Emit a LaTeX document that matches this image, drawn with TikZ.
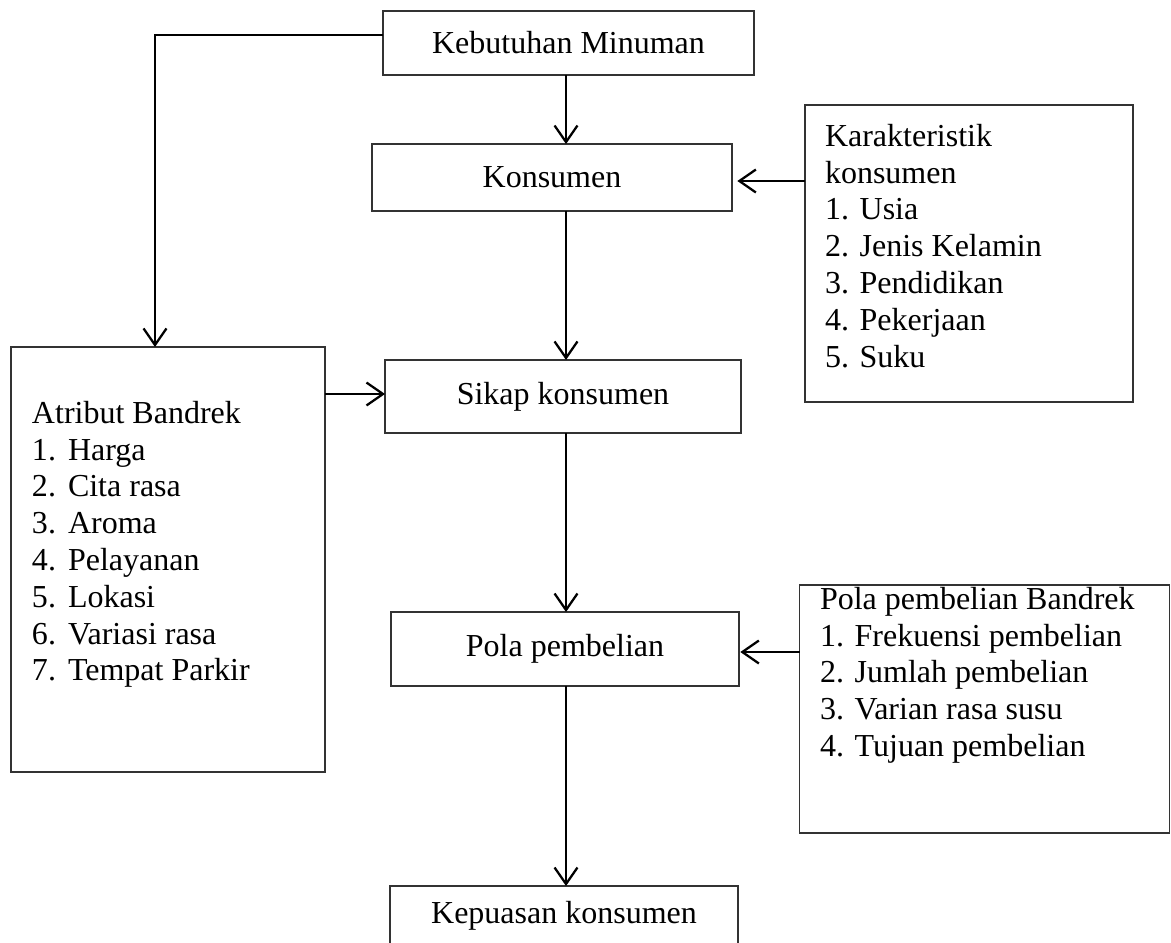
\documentclass[tikz,border=0pt]{standalone}
\usepackage{fontspec}
\setmainfont{Liberation Serif}
\usetikzlibrary{arrows.meta}
\begin{document}
\begin{tikzpicture}[x=0.375pt,y=-0.375pt,
  box/.style={draw=black!80,line width=0.45pt,inner sep=0pt,outer sep=0pt},
  txt/.style={inner sep=0pt,outer sep=0pt,align=left,font=\fontsize{12}{13.8}\selectfont},
  lbl/.style={font=\fontsize{12}{13.8}\selectfont},
  arr/.style={line width=0.85pt,-{Straight Barb[length=6.2pt,width=8.6pt,line width=0.85pt]}}]
\useasboundingbox (0,0) rectangle (1171,942);
% boxes
\node[box,lbl,minimum width=139.1pt,minimum height=24pt] (top) at (568.5,43) {Kebutuhan Minuman};
\node[box,lbl,minimum width=135pt,minimum height=25.1pt] (kon) at (552,177.5) {Konsumen};
\node[box,minimum width=123pt,minimum height=111.4pt] (kar) at (969,253.5) {};
\node[box,lbl,minimum width=133.5pt,minimum height=27.4pt] (sik) at (563,396.5) {Sikap konsumen};
\node[box,minimum width=117.75pt,minimum height=159.4pt] (atr) at (168,559.5) {};
\node[box,lbl,minimum width=130.5pt,minimum height=27.75pt] (pol) at (565,649) {Pola pembelian};
\node[box,minimum width=138.75pt,minimum height=93pt] (ppb) at (984.5,709) {};
\node[lbl,inner sep=0pt,outer sep=0pt,minimum width=130.5pt,minimum height=22.5pt] (kep) at (564,916) {Kepuasan konsumen};
\draw[draw=black!80,line width=0.45pt] (kep.south west) -- (kep.north west) -- (kep.north east) -- (kep.south east);
% box texts
\node[txt,anchor=north west] (kartxt) at (825,124) {Karakteristik\\konsumen\\1. Usia\\2. Jenis Kelamin\\3. Pendidikan\\4. Pekerjaan\\5. Suku};
\node[txt,anchor=north west] (atrtxt) at (32,401) {Atribut Bandrek\\
\makebox[13.5pt][l]{1.}Harga\\
\makebox[13.5pt][l]{2.}Cita rasa\\
\makebox[13.5pt][l]{3.}Aroma\\
\makebox[13.5pt][l]{4.}Pelayanan\\
\makebox[13.5pt][l]{5.}Lokasi\\
\makebox[13.5pt][l]{6.}Variasi rasa\\
\makebox[13.5pt][l]{7.}Tempat Parkir};
\node[txt,anchor=north west] (ppbtxt) at (820,587) {Pola pembelian Bandrek\\1. Frekuensi pembelian\\2. Jumlah pembelian\\3. Varian rasa susu\\4. Tujuan pembelian};
% connectors
\coordinate (vx) at (566,0);
\coordinate (lx) at (155,0);
\draw[arr] (top.south -| vx) -- (kon.north -| vx);
\draw[arr] (kon.south -| vx) -- (sik.north -| vx);
\draw[arr] (sik.south -| vx) -- (pol.north -| vx);
\draw[arr] (pol.south -| vx) -- (kep.north -| vx);
\coordinate (ky) at (0,181);
\coordinate (ay) at (0,394);
\coordinate (py) at (0,652);
\coordinate (ty) at (0,35);
\draw[arr,shorten >=2pt] (kar.west |- ky) -- (kon.east |- ky);
\draw[arr] (atr.east |- ay) -- (sik.west |- ay);
\draw[arr,shorten >=0.5pt] (ppb.west |- py) -- (pol.east |- py);
\draw[arr,line width=1pt] (top.west |- ty) -- (lx |- ty) -- (atr.north -| lx);
\end{tikzpicture}
\end{document}
